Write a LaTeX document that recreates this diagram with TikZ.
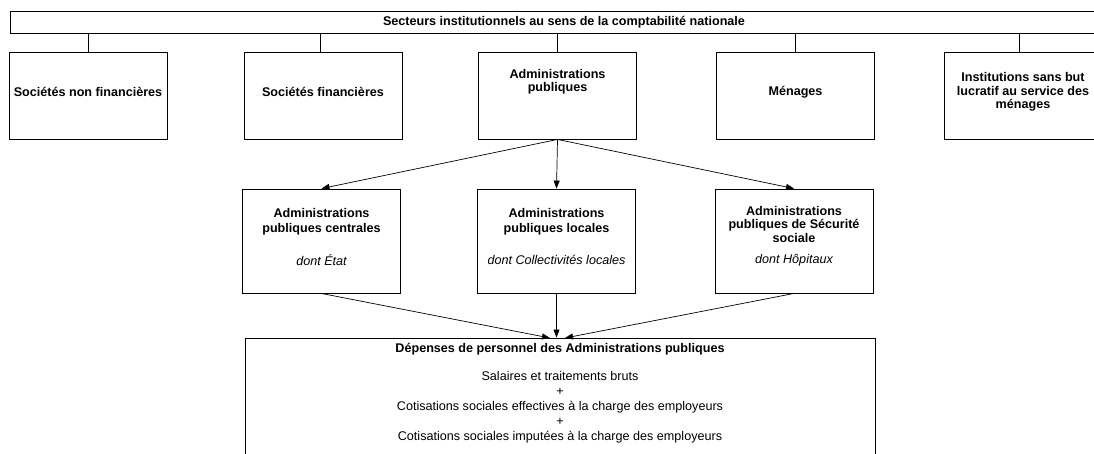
\documentclass[tikz,border=0pt]{standalone}
\usepackage{fontspec}
\setmainfont{Liberation Sans}
\usetikzlibrary{arrows.meta}
\begin{document}
\begin{tikzpicture}[x=1pt,y=-1pt,
  box/.style={draw, line width=0.9pt, inner sep=0pt, minimum width=158pt, minimum height=87pt},
  boxb/.style={box, minimum height=104pt},
  btxt/.style={align=center, inner sep=0pt, font=\fontsize{12.6}{13.5}\selectfont\bfseries},
  btxtw/.style={align=center, inner sep=0pt, font=\fontsize{12.6}{15}\selectfont\bfseries},
  itxt/.style={align=center, inner sep=0pt, font=\fontsize{12.6}{13.5}\selectfont\itshape},
  rtxt/.style={align=center, inner sep=0pt, font=\fontsize{12.6}{15}\selectfont},
  conn/.style={line width=0.8pt},
  arr/.style={line width=0.7pt, -{Triangle[length=8pt,width=6pt]}}]
\useasboundingbox (0,0) rectangle (1094,454);
\clip (0,0) rectangle (1094,454);
% top box
\node[box, minimum width=1108pt, minimum height=22pt] (top) at (564,22) {};
\node[btxt] (toptxt) at (564,22) {Secteurs institutionnels au sens de la comptabilit\'e nationale};
% level 1
\node[box] (snf) at (88,95.5) {};
\node[box] (sf) at (323,95.5) {};
\node[box] (ap) at (557.5,95.5) {};
\node[box] (men) at (795.5,95.5) {};
\node[box] (isbl) at (1023,95.5) {};
\node[btxt] (snft) at (88,92) {Soci\'et\'es non financi\`eres};
\node[btxt] (sft) at (323,92) {Soci\'et\'es financi\`eres};
\node[btxt] (apt) at (557.5,81.5) {Administrations\\publiques};
\node[btxt] (ment) at (795.5,92) {M\'enages};
\node[btxt] (isblt) at (1023,92) {Institutions sans but\\lucratif au service des\\m\'enages};
\draw[conn] (top.south -| snf.north) -- (snf.north);
\draw[conn] (top.south -| 320,0) -- (320,52);
\draw[conn] (top.south -| ap.north) -- (ap.north);
\draw[conn] (top.south -| men.north) -- (men.north);
\draw[conn] (top.south -| 1019,0) -- (1019,52);
% level 2
\node[boxb] (apc) at (321.5,241) {};
\node[boxb] (apl) at (556.5,241) {};
\node[boxb] (apss) at (794,241) {};
\node[btxtw] (apct) at (321.5,222) {Administrations\\publiques centrales};
\node[itxt] (apci) at (321.5,260) {dont \'Etat};
\node[btxtw] (aplt) at (556.5,222) {Administrations\\publiques locales};
\node[itxt] (apli) at (556.5,260) {dont Collectivit\'es locales};
\node[btxt] (apsst) at (794,224) {Administrations\\publiques de S\'ecurit\'e\\sociale};
\node[itxt] (apssi) at (794,260) {dont H\^opitaux};
\draw[arr] (ap.south) -- (apc.north);
\draw[arr] (ap.south) -- (apl.north);
\draw[arr] (ap.south) -- (apss.north);
% bottom box
\node[draw, line width=0.9pt, inner sep=0pt, minimum width=630pt, minimum height=140pt] (dep) at (560,408) {};
\node[btxt] (dept) at (560,349) {D\'epenses de personnel des Administrations publiques};
\node[rtxt] (depl) at (560,407.5) {Salaires et traitements bruts\\+\\Cotisations sociales effectives \`a la charge des employeurs\\+\\Cotisations sociales imput\'ees \`a la charge des employeurs};
\coordinate (in1) at (550,338);
\coordinate (in3) at (565,338);
\draw[arr] (apc.south) -- (in1);
\draw[arr] (apl.south) -- (apl.south |- dep.north);
\draw[arr] (apss.south) -- (in3);
\end{tikzpicture}
\end{document}
